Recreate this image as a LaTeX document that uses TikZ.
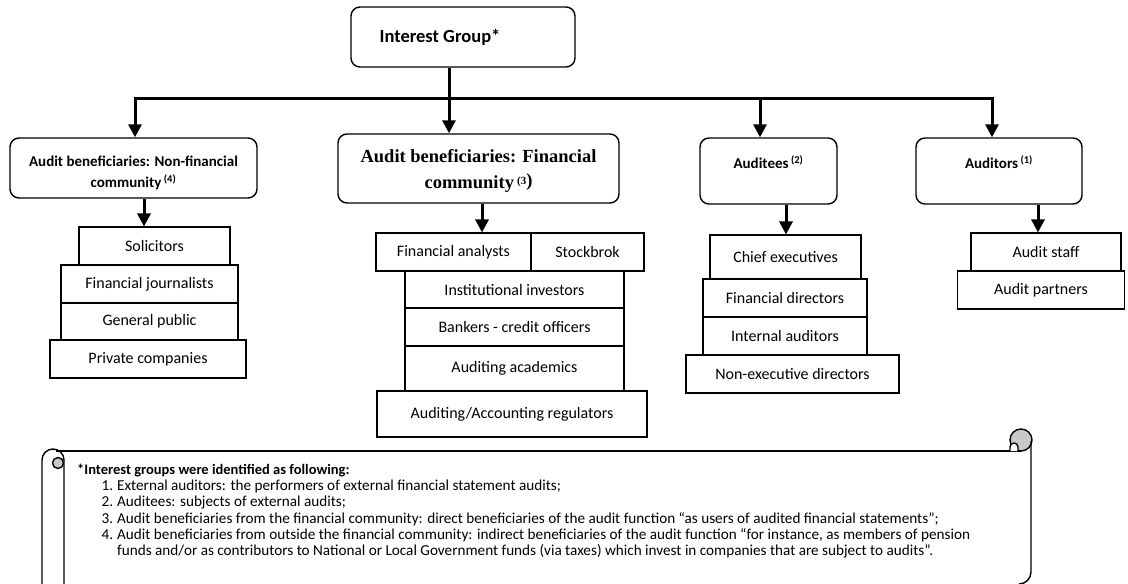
\documentclass[tikz,border=0pt]{standalone}
\usepackage{fontspec}
\setmainfont{Carlito}
\newfontfamily\serifhead{Liberation Serif}
\usetikzlibrary{arrows.meta, positioning}

\definecolor{curlgrey}{RGB}{200,200,200}

\tikzset{
  head/.style={draw, rounded corners=9pt, line width=1.4pt, inner sep=0pt, align=center,
    font=\bfseries\fontsize{15}{21}\selectfont},
  headtext/.style={align=center, inner sep=0pt, font=\bfseries\fontsize{15}{21}\selectfont},
  itm/.style={draw, line width=1.1pt, inner sep=0pt, font=\fontsize{16}{18}\selectfont},
  feed/.style={line width=3pt, -{Triangle[width=13pt,length=13pt]}},
  trunk/.style={line width=3pt, line cap=rect},
  scroll/.style={line width=1.4pt, line join=round},
}

\begin{document}
\begin{tikzpicture}[x=1pt, y=-1pt]
  \useasboundingbox (0,0) rectangle (1128,584);

  % top of the tree
  \node[head, minimum width=224pt, minimum height=60pt,
        label={[headtext, font=\bfseries\fontsize{18.5}{22}\selectfont, xshift=-23pt]center:Interest Group*}] (top) at (463,37) {};

  % the four groups
  \node[head, minimum width=247pt, minimum height=60pt,
        label={[headtext, yshift=-5pt]center:{Audit beneficiaries: Non-financial\\community\,\textsuperscript{(4)}}}] (nonfin) at (133.5,168) {};
  \node[head, minimum width=281pt, minimum height=69pt,
        label={[headtext, font=\serifhead\bfseries\fontsize{18.5}{26}\selectfont, yshift=-2.5pt]center:{Audit beneficiaries: Financial\\community\,{\fontsize{11}{11}\selectfont\raisebox{4pt}{(3}}\raisebox{2pt}{)}}}] (fin) at (478.5,168.5) {};
  \node[head, minimum width=137pt, minimum height=66pt,
        label={[headtext, yshift=9pt]center:Auditees\,\textsuperscript{(2)}}] (auditees) at (768.5,171) {};
  \node[head, minimum width=166pt, minimum height=66pt,
        label={[headtext, yshift=9pt]center:Auditors\,\textsuperscript{(1)}}] (auditors) at (999,171) {};

  % non-financial community
  \node[itm, minimum width=151pt, minimum height=38pt] (sol) at (154.5,246) {Solicitors};
  \node[itm, minimum width=177pt, minimum height=38pt] (fjo) at (149.5,284) {Financial journalists};
  \node[itm, minimum width=177pt, minimum height=37pt] (gpu) at (149.5,321.5) {General public};
  \node[itm, minimum width=196pt, minimum height=38pt] (pco) at (148,359) {Private companies};

  % financial community
  \node[itm, minimum width=155pt, minimum height=38pt] (fan) at (453.5,252) {Financial analysts};
  \node[itm, minimum width=113pt, minimum height=38pt] (stb) at (587.5,252) {Stockbrok};
  \node[itm, minimum width=219pt, minimum height=37pt] (inv) at (514.5,289.5) {Institutional investors};
  \node[itm, minimum width=219pt, minimum height=38pt] (bnk) at (514.5,327) {Bankers - credit officers};
  \node[itm, minimum width=219pt, minimum height=45pt] (aca) at (514.5,368.5) {Auditing academics};
  \node[itm, minimum width=270pt, minimum height=46pt] (reg) at (512,414) {Auditing/Accounting regulators};

  % auditees
  \node[itm, minimum width=151pt, minimum height=44pt] (cex) at (785.5,257) {Chief executives};
  \node[itm, minimum width=164pt, minimum height=38pt] (fdi) at (785,298) {Financial directors};
  \node[itm, minimum width=164pt, minimum height=38pt] (iau) at (785,336) {Internal auditors};
  \node[itm, minimum width=213pt, minimum height=38pt] (ned) at (792.5,374) {Non-executive directors};

  % auditors
  \node[itm, minimum width=150pt, minimum height=38pt] (ast) at (1046,252) {Audit staff};
  \node[itm, minimum width=167pt, minimum height=38pt] (apa) at (1041,290) {Audit partners};

  % connectors
  \coordinate (dropL) at (135,98);
  \coordinate (dropA) at (760,98);
  \coordinate (dropR) at (992,98);
  \draw[feed] ([xshift=-14pt]top.south) -- ([xshift=-14pt]top.south |- fin.north);
  \draw[trunk] (dropL) -- (dropR);
  \draw[feed] (dropL) -- (dropL |- nonfin.north);
  \draw[feed] (dropA) -- (dropA |- auditees.north);
  \draw[feed] (dropR) -- (dropR |- auditors.north);
  \draw[feed] ([xshift=10.5pt]nonfin.south) -- ([xshift=10.5pt]nonfin.south |- sol.north);
  \draw[feed] ([xshift=3.5pt]fin.south) -- ([xshift=3.5pt]fin.south |- fan.north);
  \draw[feed] ([xshift=17.5pt]auditees.south) -- ([xshift=17.5pt]auditees.south |- cex.north);
  \draw[feed] ([xshift=39pt]auditors.south) -- ([xshift=39pt]auditors.south |- ast.north);

  % scroll with the notes
  \draw[scroll] (42,584) -- (42,460) arc[start angle=180, end angle=360, radius=11] -- (64,584);
  \draw[scroll, fill=curlgrey] (58,463) circle[radius=5.5];
  \draw[scroll] (56,451) -- (1021,451);
  \draw[scroll, fill=curlgrey] (1021,440) circle[radius=11];
  \draw[scroll, fill=white] (1010,451) -- (1010,447) arc[start angle=180, end angle=360, radius=4] -- (1018,451);
  \draw[scroll] (1031,441) -- (1031,572) arc[start angle=0, end angle=90, radius=12];

  \node[anchor=north west, text width=893pt, align=justify, inner sep=0pt,
        font=\fontsize{15.2}{16.2}\selectfont] (notes) at (77,464) {%
    \parindent=0pt
    {\fontsize{14.5}{17}\selectfont\textbf{*Interest groups were identified as following:}}\par
    \leftskip=40pt
    \leavevmode\llap{1.\hspace{4pt}}External auditors: the performers of external financial statement audits;\par
    \leavevmode\llap{2.\hspace{4pt}}Auditees: subjects of external audits;\par
    \leavevmode\llap{3.\hspace{4pt}}Audit beneficiaries from the financial community: direct beneficiaries of the audit function “as users of audited financial statements”;\par
    \leavevmode\llap{4.\hspace{4pt}}Audit beneficiaries from outside the financial community: indirect beneficiaries of the audit function “for instance, as members of pension\linebreak funds and/or as contributors to National or Local Government funds (via taxes) which invest in companies that are subject to audits”.\par};
\end{tikzpicture}
\end{document}
